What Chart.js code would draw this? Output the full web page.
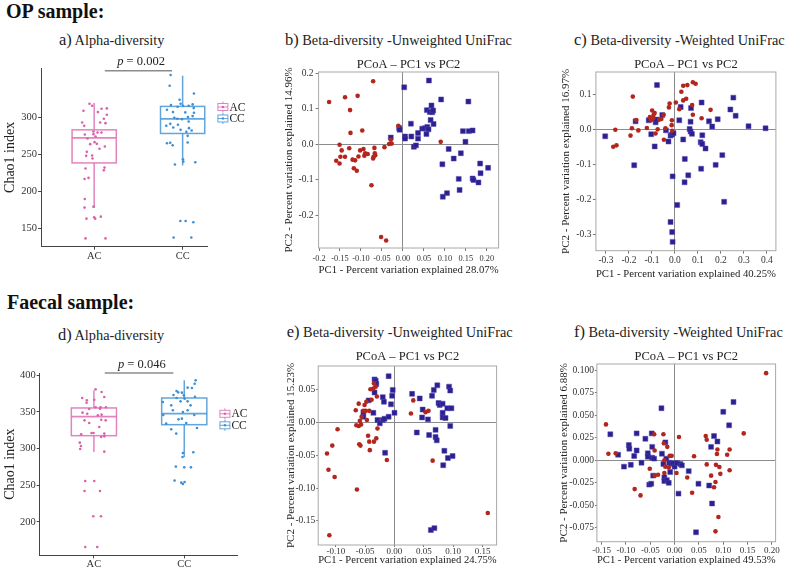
<!DOCTYPE html>
<html>
<head>
<meta charset="utf-8">
<script src="https://cdn.jsdelivr.net/npm/chart.js@4.4.0/dist/chart.umd.min.js"></script>
<style>
body { margin: 0; background: #fff; }
#page { position: relative; width: 789px; height: 569px; overflow: hidden; font-family: 'Liberation Serif', 'Times New Roman', serif; color: #222; }
.head { position: absolute; font-weight: bold; font-size: 20px; line-height: 20px; color: #111; white-space: nowrap; }
.ptitle { position: absolute; font-size: 14.3px; line-height: 16px; white-space: nowrap; color: #222; }
.ptitle span { font-size: 16.5px; }
canvas { position: absolute; }
</style>
</head>
<body>
<div id="page">
  <div class="head" style="left:6px;top:0.5px">OP sample:</div>
  <div class="head" style="left:7px;top:292px">Faecal sample:</div>
  <div class="ptitle" style="left:59px;top:31.5px"><span>a)</span> Alpha-diversity</div>
  <div class="ptitle" style="left:285px;top:32px"><span>b)</span> Beta-diversity -Unweighted UniFrac</div>
  <div class="ptitle" style="left:574px;top:32px"><span>c)</span> Beta-diversity -Weighted UniFrac</div>
  <div class="ptitle" style="left:58px;top:327px"><span>d)</span> Alpha-diversity</div>
  <div class="ptitle" style="left:286.7px;top:324px"><span>e)</span> Beta-diversity -Unweighted UniFrac</div>
  <div class="ptitle" style="left:574px;top:324px"><span>f)</span> Beta-diversity -Weighted UniFrac</div>
  <canvas id="chartA"></canvas>
  <canvas id="chartB"></canvas>
  <canvas id="chartC"></canvas>
  <canvas id="chartD"></canvas>
  <canvas id="chartE"></canvas>
  <canvas id="chartF"></canvas>
</div>
<script>
const SERIF = "'Liberation Serif', 'Times New Roman', serif";

// groups
const groups = ['AC', 'CC'];

// Chao1 index, OP samples (values + horizontal jitter)
const opAcChao1 = [318.5, 315.8, 309, 311.7, 312.2, 307.2, 293.2, 298.2, 303.6, 292.3, 293.2, 288.7, 277, 277.5, 274.3, 279.7, 279.7, 281, 271.6, 264, 266.7, 264.4, 257.7, 260.8, 253.6, 248.2, 244.6, 248.6, 231.1, 232.4, 228.8, 217.1, 218.5, 190.1, 178.4, 179.7, 163.5, 163.5, 166.2, 165.3, 136.9, 136.9];
const opAcJitter = [-0.053, -0.023, -0.121, 0.083, 0.143, 0.042, -0.136, 0.109, 0.143, 0.128, 0.068, -0.113, -0.106, -0.008, 0.015, 0.038, 0.083, -0.008, -0.075, -0.045, 0.004, 0.030, 0.060, 0.121, -0.083, -0.091, -0.019, -0.023, -0.098, 0.117, 0.109, -0.109, -0.064, -0.106, -0.109, -0.008, -0.087, 0.011, 0.075, 0.0, -0.098, 0.128];
const opCcChao1 = [357.2, 342.8, 332.4, 323.9, 318.5, 316.7, 314.4, 315.8, 315.8, 317.6, 312.6, 310.4, 307.2, 306.8, 306.3, 301.8, 300.5, 299.5, 291.4, 298.2, 297.7, 288.7, 286.5, 290.1, 294.6, 285.6, 282.4, 280.6, 283.3, 275.2, 265.8, 262.6, 265.3, 266.2, 243.7, 240.5, 239.6, 236.5, 160.4, 160.4, 158.6, 138.2, 138.2];
const opCcJitter = [-0.136, -0.147, 0.128, -0.034, -0.023, -0.132, -0.057, 0.004, 0.068, 0.113, 0.125, -0.177, -0.109, 0.030, 0.128, 0.113, 0.060, -0.094, -0.140, -0.060, -0.008, -0.185, -0.106, -0.053, 0.068, 0.072, 0.102, 0.042, -0.023, 0.057, -0.140, -0.113, -0.177, 0.057, 0.004, 0.008, 0.143, -0.087, -0.026, 0.034, 0.121, -0.102, 0.098];
// box stats: lower whisker, Q1, median, Q3, upper whisker
const opAcBox = [178, 238.7, 272.5, 283.3, 319.4];
const opCcBox = [235.1, 278.4, 298.2, 314.9, 356.3];
const opYTicks = [150, 200, 250, 300];

// Chao1 index, faecal samples
const faecalAcChao1 = [380.9, 377.3, 369.1, 365.9, 370.5, 362.7, 356.4, 356.4, 366.8, 356.4, 354.5, 354.1, 349.1, 347.7, 345.5, 346.4, 338.6, 335, 339.5, 338.6, 329.5, 321.4, 321.4, 319.5, 320.5, 316.8, 315.9, 308.2, 303.6, 299.5, 295.9, 255.9, 255.9, 242.3, 242.3, 207.7, 207.7, 165.9, 165.9];
const faecalAcJitter = [0.019, 0.085, -0.130, -0.078, 0.115, -0.081, 0.074, 0.133, 0.004, 0.019, 0.067, -0.052, -0.126, -0.074, 0.044, 0.085, -0.104, -0.052, 0.081, 0.130, 0.059, -0.026, -0.004, -0.141, 0.115, 0.115, 0.081, -0.156, -0.144, -0.152, 0.115, -0.096, 0.004, -0.104, 0.067, -0.007, 0.078, -0.096, 0.037];
const faecalCcChao1 = [393.2, 388.6, 383.2, 382.7, 378.6, 376.8, 376.4, 373.2, 372.7, 369.1, 368.2, 370.9, 363.6, 364.5, 364.5, 359.1, 359.1, 352.3, 350, 352.3, 345.9, 345.9, 340, 340.9, 334.1, 335, 326.4, 328.2, 320.5, 295, 294.1, 288.6, 275.5, 274.5, 274.5, 256.4, 254.5, 251.8, 253.6];
const faecalCcJitter = [0.126, 0.115, 0.037, 0.085, -0.085, -0.067, -0.026, -0.119, -0.004, -0.085, 0.004, 0.119, -0.237, -0.041, 0.037, -0.144, 0.070, -0.126, -0.015, 0.037, 0.111, -0.233, -0.063, -0.026, -0.200, 0.022, -0.144, 0.141, -0.089, 0.100, -0.015, -0.019, -0.093, 0.0, 0.074, -0.107, 0.004, -0.015, -0.033];
const faecalAcBox = [295.5, 317.7, 343.6, 355.5, 379.5];
const faecalCcBox = [288.6, 332.7, 347.7, 369.1, 393.2];
const faecalYTicks = [200, 250, 300, 350, 400];

// PCoA coordinates [PC1, PC2]
const bAC = [[-0.176,0.119],[-0.138,0.132],[-0.108,0.136],[-0.071,0.177],[-0.126,0.096],[-0.097,0.039],[-0.125,0.032],[-0.011,0.052],[-0.151,-0.001],[-0.146,-0.017],[-0.128,-0.011],[-0.159,-0.046],[-0.151,-0.054],[-0.149,-0.035],[-0.138,-0.035],[-0.120,-0.043],[-0.117,-0.067],[-0.110,-0.074],[-0.106,-0.034],[-0.114,-0.045],[-0.102,-0.017],[-0.094,-0.013],[-0.090,-0.025],[-0.092,-0.032],[-0.084,-0.027],[-0.068,-0.010],[-0.070,-0.035],[-0.066,-0.031],[-0.067,-0.025],[-0.071,-0.040],[-0.075,-0.115],[-0.044,-0.008],[-0.033,0.001],[-0.029,0.013],[-0.027,0.002],[-0.052,-0.260],[-0.040,-0.270],[0.090,0.007]];
const bCC = [[0.003,0.160],[0.062,0.179],[0.091,0.126],[0.156,0.120],[0.057,0.096],[0.068,0.109],[0.064,0.091],[0.070,0.090],[0.072,0.095],[0.066,0.068],[0.073,0.057],[0.019,0.058],[-0.009,0.046],[-0.008,0.041],[-0.029,0.019],[0.005,0.022],[0.005,0.016],[0.020,0.022],[0.036,0.032],[0.036,0.016],[0.046,0.044],[0.052,0.045],[0.058,0.049],[0.056,0.029],[0.061,0.042],[0.026,-0.007],[0.031,-0.003],[0.143,0.037],[0.157,0.037],[0.166,0.039],[0.149,0.007],[0.109,-0.013],[0.121,-0.040],[0.138,-0.025],[0.094,-0.056],[0.184,-0.054],[0.203,-0.066],[0.166,-0.096],[0.168,-0.100],[0.180,-0.107],[0.185,-0.081],[0.133,-0.097],[0.135,-0.128],[0.105,-0.137],[0.095,-0.147]];
const cAC = [[-0.183,0.095],[-0.168,0.028],[-0.159,-0.002],[-0.187,0.004],[-0.193,-0.017],[-0.259,0.000],[-0.268,-0.049],[-0.254,-0.045],[-0.122,0.005],[-0.109,0.036],[-0.104,0.027],[-0.099,0.055],[-0.088,0.048],[-0.093,0.042],[-0.094,0.033],[-0.084,-0.011],[-0.075,0.001],[-0.068,0.029],[-0.059,0.031],[-0.049,0.043],[-0.041,0.004],[-0.048,-0.029],[-0.026,0.064],[-0.023,0.075],[-0.013,0.027],[-0.014,0.013],[-0.012,-0.003],[0.004,0.078],[0.028,0.109],[0.036,0.126],[0.054,0.128],[0.078,0.136],[0.090,0.132],[0.036,0.084],[0.049,0.089],[0.019,0.059],[0.075,0.071],[0.078,0.043],[0.116,0.033],[0.155,0.057]];
const cCC = [[-0.078,0.128],[-0.303,-0.019],[-0.177,-0.102],[-0.171,0.024],[-0.114,0.027],[-0.103,-0.013],[-0.088,-0.048],[-0.084,0.021],[-0.080,0.029],[-0.055,0.042],[-0.039,-0.002],[-0.028,-0.034],[-0.019,-0.017],[-0.013,-0.014],[-0.006,-0.010],[-0.010,-0.134],[0.025,0.065],[0.019,0.027],[0.036,-0.028],[0.043,-0.084],[0.042,-0.151],[0.058,-0.131],[0.010,-0.216],[-0.019,-0.265],[-0.012,-0.294],[-0.010,-0.322],[0.064,0.002],[0.068,-0.005],[0.074,-0.012],[0.068,0.023],[0.070,0.062],[0.116,0.078],[0.119,-0.016],[0.112,-0.036],[0.119,-0.041],[0.133,-0.054],[0.114,-0.112],[0.148,0.024],[0.162,0.009],[0.186,0.030],[0.177,-0.101],[0.206,-0.073],[0.214,-0.207],[0.241,0.058],[0.254,0.092],[0.264,0.040],[0.320,0.010],[0.394,0.004]];
const eAC = [[-0.115,-0.047],[-0.1125,-0.072],[-0.111,-0.172],[-0.106,-0.035],[-0.102,-0.083],[-0.097,-0.010],[-0.064,-0.102],[-0.066,0.019],[-0.065,-0.004],[-0.061,0.029],[-0.061,-0.005],[-0.060,-0.033],[-0.058,-0.035],[-0.059,0.003],[-0.057,-0.003],[-0.056,0.009],[-0.053,0.018],[-0.051,0.027],[-0.049,0.018],[-0.048,0.032],[-0.047,0.004],[-0.045,-0.020],[-0.043,0.018],[-0.043,-0.029],[-0.042,-0.042],[-0.041,0.051],[-0.039,0.035],[-0.036,0.052],[-0.035,0.060],[-0.035,-0.029],[-0.032,0.055],[-0.031,-0.024],[-0.030,0.040],[-0.029,-0.009],[-0.013,-0.057],[0.028,0.014],[0.032,0.034],[0.053,0.016],[0.058,0.018],[0.065,-0.058],[0.159,-0.138]];
const eCC = [[-0.034,0.066],[-0.032,0.064],[-0.031,0.059],[-0.034,0.046],[-0.044,0.034],[-0.053,0.016],[-0.053,0.009],[-0.036,0.015],[-0.029,0.004],[-0.025,-0.001],[-0.020,0.039],[-0.018,0.032],[-0.020,0.004],[-0.017,0.006],[-0.016,-0.046],[-0.010,0.071],[-0.010,0.009],[-0.006,0.028],[-0.004,0.041],[-0.003,0.050],[0.000,0.015],[0.030,0.044],[0.038,-0.015],[0.043,0.037],[0.048,0.020],[0.047,0.008],[0.057,0.005],[0.059,-0.019],[0.064,0.041],[0.067,0.050],[0.070,-0.011],[0.070,-0.022],[0.072,-0.027],[0.073,0.057],[0.075,0.030],[0.077,0.027],[0.082,0.029],[0.082,0.015],[0.082,0.008],[0.087,0.007],[0.090,0.022],[0.093,0.055],[0.095,0.049],[0.097,0.022],[0.095,-0.005],[0.085,-0.043],[0.083,-0.065],[0.091,-0.054],[0.099,-0.051],[0.062,-0.164],[0.068,-0.161]];
const fAC = [[-0.141,0.040],[-0.136,0.0074],[-0.121,0.0078],[-0.082,-0.032],[-0.070,-0.039],[-0.051,-0.0093],[-0.042,0.029],[-0.041,0.011],[-0.041,-0.017],[-0.034,-0.016],[-0.023,0.029],[-0.022,0.019],[-0.021,0.000],[-0.021,-0.014],[-0.019,-0.007],[-0.015,0.015],[-0.010,0.005],[-0.006,0.005],[-0.012,-0.008],[0.004,-0.014],[0.009,0.026],[0.026,-0.019],[0.036,-0.036],[0.040,0.0045],[0.064,0.027],[0.066,0.023],[0.066,-0.0045],[0.075,-0.017],[0.081,-0.030],[0.084,-0.024],[0.085,-0.005],[0.087,0.007],[0.088,0.012],[0.084,-0.079],[0.092,-0.0074],[0.094,-0.015],[0.090,-0.063],[0.108,0.0063],[0.113,0.012],[0.113,-0.011],[0.142,0.030],[0.188,0.097]];
const fCC = [[-0.132,0.029],[-0.116,0.0063],[-0.104,-0.007],[-0.094,0.017],[-0.093,0.013],[-0.090,-0.005],[-0.083,0.0048],[-0.078,0.030],[-0.078,0.011],[-0.068,-0.0026],[-0.060,0.024],[-0.055,0.0078],[-0.055,0.0041],[-0.052,-0.027],[-0.048,-0.026],[-0.047,0.030],[-0.046,0.015],[-0.046,0.003],[-0.044,-0.017],[-0.042,0.0019],[-0.027,0.058],[-0.026,0.0074],[-0.023,-0.004],[-0.021,-0.019],[-0.021,-0.023],[-0.019,0.020],[-0.017,0.0019],[-0.016,-0.022],[-0.012,-0.025],[-0.011,-0.0026],[-0.009,-0.013],[-0.007,-0.0037],[-0.003,-0.0033],[0.000,-0.007],[0.005,-0.003],[0.008,-0.037],[0.012,-0.004],[0.015,-0.0056],[0.029,-0.012],[0.044,-0.080],[0.049,-0.026],[0.071,-0.028],[0.075,0.015],[0.077,-0.048],[0.081,0.027],[0.088,0.021],[0.100,0.054],[0.112,0.039],[0.121,0.065]];

// tick values and their printed labels
const bXTicks = [-0.2, -0.15, -0.1, -0.05, 0, 0.05, 0.1, 0.15, 0.2];
const bXLabels = ['-0.2', '-0.15', '-0.10', '-0.05', '0.00', '0.05', '0.10', '0.15', '0.20'];
const bYTicks = [-0.2, -0.1, 0, 0.1, 0.2];
const bYLabels = ['-0.2', '-0.1', '0.0', '0.1', '0.2'];
const cXTicks = [-0.3, -0.2, -0.1, 0, 0.1, 0.2, 0.3, 0.4];
const cXLabels = ['-0.3', '-0.2', '-0.1', '0.0', '0.1', '0.2', '0.3', '0.4'];
const cYTicks = [-0.3, -0.2, -0.1, 0, 0.1];
const cYLabels = ['-0.3', '-0.2', '-0.1', '0.0', '0.1'];
const eXTicks = [-0.1, -0.05, 0, 0.05, 0.1, 0.15];
const eXLabels = ['-0.10', '-0.05', '0.00', '0.05', '0.10', '0.15'];
const eYTicks = [-0.15, -0.1, -0.05, 0, 0.05];
const eYLabels = ['-0.15', '-0.10', '-0.05', '0.00', '0.05'];
const fXTicks = [-0.15, -0.1, -0.05, 0, 0.05, 0.1, 0.15, 0.2];
const fXLabels = ['-0.15', '-0.10', '-0.05', '0.00', '0.05', '0.10', '0.15', '0.20'];
const fYTicks = [-0.075, -0.05, -0.025, 0, 0.025, 0.05, 0.075, 0.1];
const fYLabels = ['-0.075', '-0.050', '-0.025', '0.000', '0.025', '0.050', '0.075', '0.100'];

const AC_RED = '#B3261E';
const CC_NAVY = '#2C2090';
const AC_PINK = '#DA62A8';
const CC_BLUE = '#3E8FD3';

// put a canvas so that the chart area lands on the plot box
function placeCanvas(id, g) {
    const cv = document.getElementById(id);
    const w = Math.round(g.right - g.left), h = Math.round(g.bottom - g.top);
    cv.width = w;
    cv.height = h;
    cv.style.left = g.left + 'px';
    cv.style.top = g.top + 'px';
    cv.style.width = w + 'px';
    cv.style.height = h + 'px';
    return {
        cv,
        yW: g.plotL - g.left,
        padTop: g.plotT - g.top,
        padRight: w - (g.plotR - g.left),
        xH: h - (g.plotB - g.top)
    };
}

const framePlugin = {
    id: 'frame',
    beforeDatasetsDraw(chart, args, opts) {
        const { ctx, chartArea: a } = chart;
        ctx.save();
        ctx.strokeStyle = '#a8a8a8';
        ctx.lineWidth = 1;
        ctx.strokeRect(a.left, a.top, a.right - a.left, a.bottom - a.top);
        ctx.restore();
    },
    afterDraw(chart, args, opts) {
        const { ctx, chartArea: a } = chart;
        ctx.save();
        ctx.font = '12.5px ' + SERIF;
        ctx.fillStyle = '#222';
        ctx.textAlign = 'center';
        ctx.textBaseline = 'middle';
        ctx.fillText(opts.text, (a.left + a.right) / 2, a.top - opts.gap);
        ctx.restore();
    }
};

function pcoaAxis(ticks, labels, min, max, title, tl, pad, size, fit) {
    return {
        type: 'linear',
        min: min,
        max: max,
        afterBuildTicks: s => { s.ticks = ticks.map(v => ({ value: v })); },
        afterFit: fit,
        ticks: {
            autoSkip: false,
            maxRotation: 0,
            padding: pad,
            color: '#333',
            font: { family: SERIF, size: size },
            callback: (v, i) => labels[i]
        },
        grid: {
            color: c => (c.tick && Math.abs(c.tick.value) < 1e-9 ? '#8c8c8c' : 'rgba(0,0,0,0)'),
            tickColor: '#777',
            tickLength: tl,
            lineWidth: 1
        },
        border: { display: false },
        title: { display: true, text: title, color: '#222', padding: 0, font: { family: SERIF, size: 11 } }
    };
}

function makePcoa(id, g, p) {
    const L = placeCanvas(id, g);
    return new Chart(L.cv, {
        type: 'scatter',
        data: {
            datasets: [
                { label: 'AC', data: p.ac.map(d => ({ x: d[0], y: d[1] })), pointStyle: 'circle', radius: 2.3, backgroundColor: AC_RED, borderWidth: 0 },
                { label: 'CC', data: p.cc.map(d => ({ x: d[0], y: d[1] })), pointStyle: 'rect', radius: 3.5, backgroundColor: CC_NAVY, borderColor: '#5046b0', borderWidth: 0.5 }
            ]
        },
        options: {
            responsive: false,
            animation: false,
            events: [],
            layout: { padding: { top: L.padTop, right: L.padRight, left: 0, bottom: 0 } },
            plugins: { legend: { display: false }, tooltip: { enabled: false }, frame: { text: 'PCoA – PC1 vs PC2', gap: p.titleGap } },
            scales: {
                x: pcoaAxis(p.xTicks, p.xLabels, p.xMin, p.xMax, p.xTitle, p.xTl, p.xPad, p.xSize, s => { s.height = L.xH; }),
                y: pcoaAxis(p.yTicks, p.yLabels, p.yMin, p.yMax, p.yTitle, p.yTl, p.yPad, 9.5, s => { s.width = L.yW; })
            }
        },
        plugins: [framePlugin]
    });
}

const boxPlugin = {
    id: 'boxes',
    beforeDatasetsDraw(chart, args, opts) {
        const { ctx, scales: { x, y } } = chart;
        ctx.save();
        opts.boxes.forEach((b, i) => {
            const cx = x.getPixelForValue(i + 1);
            const hw = x.getPixelForValue(i + 1 + 0.25) - cx;
            ctx.strokeStyle = opts.lines[i];
            ctx.lineWidth = 1.5;
            ctx.beginPath();
            ctx.moveTo(cx, y.getPixelForValue(b[0]));
            ctx.lineTo(cx, y.getPixelForValue(b[1]));
            ctx.moveTo(cx, y.getPixelForValue(b[3]));
            ctx.lineTo(cx, y.getPixelForValue(b[4]));
            ctx.stroke();
            const top = y.getPixelForValue(b[3]), bot = y.getPixelForValue(b[1]);
            ctx.strokeRect(cx - hw, top, hw * 2, bot - top);
            ctx.lineWidth = 1.8;
            ctx.beginPath();
            ctx.moveTo(cx - hw, y.getPixelForValue(b[2]));
            ctx.lineTo(cx + hw, y.getPixelForValue(b[2]));
            ctx.stroke();
        });
        ctx.restore();
    },
    afterDraw(chart, args, opts) {
        const { ctx, chartArea: a, scales: { x } } = chart;
        ctx.save();
        // significance bar
        const ly = a.top + opts.lineDy;
        ctx.strokeStyle = '#8c8c8c';
        ctx.lineWidth = 1.5;
        ctx.beginPath();
        ctx.moveTo(x.getPixelForValue(opts.pFrom), ly);
        ctx.lineTo(x.getPixelForValue(opts.pTo), ly);
        ctx.stroke();
        ctx.fillStyle = '#222';
        ctx.textBaseline = 'alphabetic';
        const italic = 'italic 12.5px ' + SERIF, normal = '12.5px ' + SERIF;
        ctx.font = italic;
        const w1 = ctx.measureText('p').width;
        ctx.font = normal;
        const rest = ' = ' + opts.pValue;
        const w2 = ctx.measureText(rest).width;
        let tx = x.getPixelForValue(opts.pAt) - (w1 + w2) / 2;
        ctx.font = italic;
        ctx.fillText('p', tx, ly - 5.5);
        ctx.font = normal;
        ctx.fillText(rest, tx + w1, ly - 5.5);
        // legend
        groups.forEach((gname, i) => {
            const lx = opts.legendX, yy = opts.legendY + i * 11.5;
            ctx.strokeStyle = opts.lines[i];
            ctx.lineWidth = 1;
            ctx.strokeRect(lx + 0.5, yy - 3.5, 10, 7);
            ctx.beginPath();
            ctx.moveTo(lx + 0.5, yy);
            ctx.lineTo(lx + 10.5, yy);
            ctx.moveTo(lx + 5.5, yy - 5.5);
            ctx.lineTo(lx + 5.5, yy - 3.5);
            ctx.moveTo(lx + 5.5, yy + 3.5);
            ctx.lineTo(lx + 5.5, yy + 5.5);
            ctx.stroke();
            ctx.fillStyle = opts.dots[i];
            ctx.beginPath();
            ctx.arc(lx + 5.5, yy, 1.2, 0, Math.PI * 2);
            ctx.fill();
            ctx.fillStyle = '#222';
            ctx.font = '11.5px ' + SERIF;
            ctx.textBaseline = 'middle';
            ctx.fillText(gname, lx + 12, yy + 0.5);
        });
        ctx.restore();
    }
};

function alphaAxisCommon(tl, pad) {
    return {
        grid: { display: true, drawOnChartArea: false, drawTicks: true, tickLength: tl, tickColor: '#444' },
        border: { display: true, color: '#444', width: 1 },
        ticks: { autoSkip: false, maxRotation: 0, padding: pad, color: '#333', font: { family: SERIF, size: 10.5 } }
    };
}

function makeAlpha(id, g, p) {
    const L = placeCanvas(id, g);
    const xAxis = alphaAxisCommon(3, 0);
    const yAxis = alphaAxisCommon(3, 1);
    Object.assign(xAxis, {
        type: 'linear', min: 0.4, max: p.xMax,
        afterBuildTicks: s => { s.ticks = groups.map((gname, i) => ({ value: i + 1 })); },
        afterFit: s => { s.height = L.xH; }
    });
    xAxis.ticks.callback = (v, i) => groups[i];
    Object.assign(yAxis, {
        type: 'linear', min: p.yMin, max: p.yMax,
        afterBuildTicks: s => { s.ticks = p.yTicks.map(v => ({ value: v })); },
        afterFit: s => { s.width = L.yW; },
        title: { display: true, text: 'Chao1 index', color: '#222', padding: 0, font: { family: SERIF, size: 14 } }
    });
    yAxis.ticks.callback = v => String(v);
    return new Chart(L.cv, {
        type: 'scatter',
        data: {
            datasets: [
                { label: 'AC', data: p.ac.map((v, k) => ({ x: 1 + p.acJit[k], y: v })), radius: 1.3, backgroundColor: AC_PINK, borderWidth: 0 },
                { label: 'CC', data: p.cc.map((v, k) => ({ x: 2 + p.ccJit[k], y: v })), radius: 1.3, backgroundColor: CC_BLUE, borderWidth: 0 }
            ]
        },
        options: {
            responsive: false,
            animation: false,
            events: [],
            layout: { padding: { top: L.padTop, right: L.padRight, left: 0, bottom: 0 } },
            plugins: {
                legend: { display: false },
                tooltip: { enabled: false },
                boxes: {
                    boxes: p.boxes,
                    lines: ['rgba(222,110,180,0.85)', 'rgba(70,150,215,0.85)'],
                    dots: [AC_PINK, CC_BLUE],
                    pValue: p.pValue, pFrom: 1.12, pTo: 1.88, pAt: 1.53, lineDy: p.lineDy,
                    legendX: p.legendX, legendY: p.legendY
                }
            },
            scales: { x: xAxis, y: yAxis }
        },
        plugins: [boxPlugin]
    });
}

makeAlpha('chartA',
    { left: 1.6, top: 38, right: 250, bottom: 266.7, plotL: 40.7, plotT: 68, plotR: 207, plotB: 246.7 },
    { ac: opAcChao1, acJit: opAcJitter, cc: opCcChao1, ccJit: opCcJitter, boxes: [opAcBox, opCcBox],
      yMin: 125.7, yMax: 366.7, yTicks: opYTicks, xMax: 2.28, pValue: '0.002', lineDy: 2.7, legendX: 215.4, legendY: 69 });

makeAlpha('chartD',
    { left: 1.6, top: 342.7, right: 250, bottom: 569, plotL: 39.3, plotT: 372.7, plotR: 236.7, plotB: 555 },
    { ac: faecalAcChao1, acJit: faecalAcJitter, cc: faecalCcChao1, ccJit: faecalCcJitter, boxes: [faecalAcBox, faecalCcBox],
      yMin: 154.5, yMax: 403.2, yTicks: faecalYTicks, xMax: 2.585, pValue: '0.046', lineDy: 0, legendX: 217.4, legendY: 70.8 });

makePcoa('chartB',
    { left: 282.7, top: 52.3, right: 510, bottom: 277.3, plotL: 318.3, plotT: 72.3, plotR: 498.3, plotB: 248.3 },
    { ac: bAC, cc: bCC, xTicks: bXTicks, xLabels: bXLabels, yTicks: bYTicks, yLabels: bYLabels,
      xMin: -0.201, xMax: 0.228, yMin: -0.291, yMax: 0.203,
      xTitle: 'PC1 - Percent variation explained 28.07%', yTitle: 'PC2 - Percent variation explained 14.96%',
      xTl: 3, xPad: 3, xSize: 8.3, yTl: 3, yPad: 2, titleGap: 7.3 });

makePcoa('chartC',
    { left: 560.1, top: 52.3, right: 789, bottom: 280.9, plotL: 596, plotT: 72.3, plotR: 776, plotB: 251 },
    { ac: cAC, cc: cCC, xTicks: cXTicks, xLabels: cXLabels, yTicks: cYTicks, yLabels: cYLabels,
      xMin: -0.3435, xMax: 0.439, yMin: -0.3474, yMax: 0.1656,
      xTitle: 'PC1 - Percent variation explained 40.25%', yTitle: 'PC2 - Percent variation explained 16.97%',
      xTl: 3, xPad: 1.5, xSize: 9.5, yTl: 3, yPad: 1.5, titleGap: 7.3 });

makePcoa('chartE',
    { left: 285.1, top: 346, right: 510, bottom: 566.6, plotL: 318.3, plotT: 366, plotR: 496.7, plotB: 545 },
    { ac: eAC, cc: eCC, xTicks: eXTicks, xLabels: eXLabels, yTicks: eYTicks, yLabels: eYLabels,
      xMin: -0.130, xMax: 0.174, yMin: -0.1868, yMax: 0.0865,
      xTitle: 'PC1 - Percent variation explained 24.75%', yTitle: 'PC2 - Percent variation explained 15.23%',
      xTl: 2, xPad: -0.5, xSize: 9, yTl: 2, yPad: 1, titleGap: 9.3 });

makePcoa('chartF',
    { left: 558.4, top: 344, right: 789, bottom: 566.6, plotL: 597.3, plotT: 364, plotR: 776, plotB: 541.7 },
    { ac: fAC, cc: fCC, xTicks: fXTicks, xLabels: fXLabels, yTicks: fYTicks, yLabels: fYLabels,
      xMin: -0.1596, xMax: 0.2075, yMin: -0.0905, yMax: 0.1072,
      xTitle: 'PC1 - Percent variation explained 49.53%', yTitle: 'PC2 - Percent variation explained 6.88%',
      xTl: 3, xPad: 0.5, xSize: 9, yTl: 2, yPad: 1, titleGap: 7.3 });
</script>
</body>
</html>
